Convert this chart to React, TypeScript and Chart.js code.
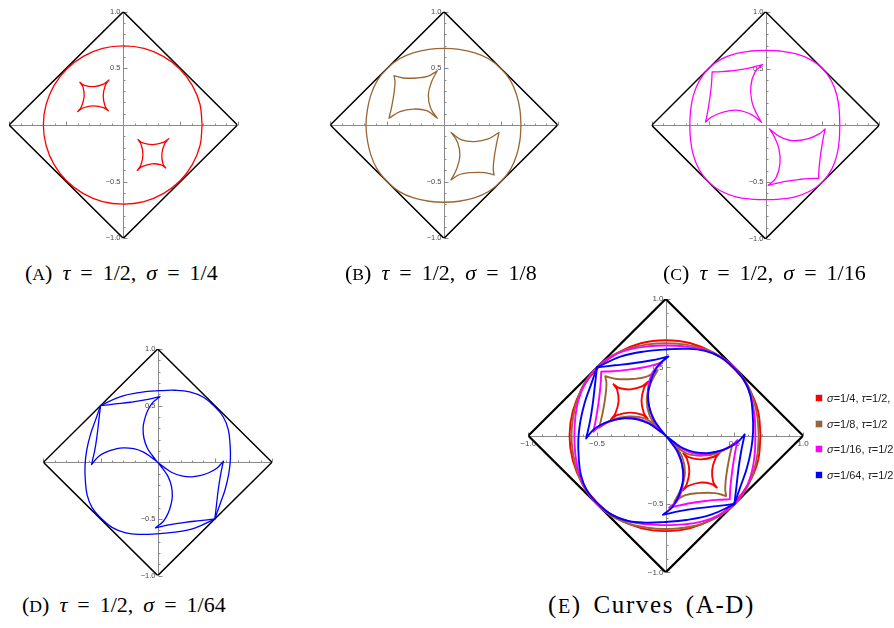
import React, { useEffect, useRef } from 'react';
import { Chart, registerables } from 'chart.js';

Chart.register(...registerables);

type P = [number, number];

// Square |x| + |y| = 1 drawn in every panel
const DIAMOND: P[] = [[1, 0], [0, 1], [-1, 0], [0, -1], [1, 0]];

// Axis ticks
const MAJOR_TICKS = [-1, -0.5, 0.5, 1];
const MAJOR_TICK_LABELS = ['\u22121.0', '\u22120.5', '0.5', '1.0'];
const MINOR_TICKS = [-0.9, -0.8, -0.7, -0.6, -0.4, -0.3, -0.2, -0.1, 0.1, 0.2, 0.3, 0.4, 0.6, 0.7, 0.8, 0.9];

// sigma = 1/4
const OUTER_A: P[] = [
  [0.69, 0], [0.672, 0.181], [0.604, 0.35], [0.495, 0.495], [0.35, 0.606], [0.181, 0.676],
  [0, 0.698], [-0.181, 0.676], [-0.35, 0.606], [-0.495, 0.495], [-0.606, 0.35], [-0.676, 0.181],
  [-0.70, 0], [-0.676, -0.181], [-0.606, -0.35], [-0.495, -0.495], [-0.35, -0.606], [-0.181, -0.676],
  [0, -0.698], [0.181, -0.676], [0.35, -0.606], [0.495, -0.495], [0.604, -0.35], [0.672, -0.181],
  [0.69, 0],
];
const UPPER_A: P[] = [
  [-0.380, 0.376], [-0.339, 0.349], [-0.255, 0.339], [-0.169, 0.363], [-0.126, 0.397],
  [-0.126, 0.397], [-0.157, 0.351], [-0.176, 0.258], [-0.160, 0.168], [-0.131, 0.124],
  [-0.131, 0.124], [-0.174, 0.154], [-0.263, 0.169], [-0.354, 0.150], [-0.400, 0.118],
  [-0.400, 0.118], [-0.367, 0.162], [-0.343, 0.250], [-0.353, 0.335], [-0.380, 0.376],
];
const LOWER_A: P[] = [
  [0.372, -0.379], [0.331, -0.352], [0.250, -0.343], [0.163, -0.368], [0.122, -0.401],
  [0.122, -0.401], [0.153, -0.355], [0.172, -0.262], [0.156, -0.172], [0.128, -0.128],
  [0.128, -0.128], [0.171, -0.158], [0.258, -0.173], [0.350, -0.154], [0.397, -0.121],
  [0.397, -0.121], [0.362, -0.166], [0.338, -0.254], [0.346, -0.339], [0.372, -0.379],
];

// sigma = 1/8
const OUTER_B: P[] = [
  [0.677, 0], [0.668, 0.133], [0.639, 0.265], [0.585, 0.391], [0.50, 0.50], [0.391, 0.585],
  [0.265, 0.639], [0.133, 0.668], [0, 0.676], [-0.133, 0.668], [-0.265, 0.639], [-0.391, 0.585],
  [-0.50, 0.50], [-0.587, 0.392], [-0.643, 0.266], [-0.674, 0.134], [-0.686, 0], [-0.674, -0.134],
  [-0.643, -0.266], [-0.587, -0.392], [-0.50, -0.50], [-0.393, -0.588], [-0.267, -0.644], [-0.134, -0.673],
  [0, -0.682], [0.134, -0.673], [0.267, -0.644], [0.392, -0.587], [0.50, -0.50], [0.585, -0.391],
  [0.639, -0.265], [0.668, -0.133], [0.677, 0],
];
const UPPER_B: P[] = [
  [-0.440, 0.435], [-0.358, 0.415], [-0.240, 0.415], [-0.138, 0.432], [-0.059, 0.479],
  [-0.059, 0.479], [-0.109, 0.382], [-0.138, 0.265], [-0.117, 0.147], [-0.059, 0.059],
  [-0.059, 0.059], [-0.152, 0.126], [-0.270, 0.141], [-0.387, 0.118], [-0.484, 0.059],
  [-0.484, 0.059], [-0.460, 0.162], [-0.440, 0.279], [-0.431, 0.382], [-0.440, 0.435],
];
const LOWER_B: P[] = [
  [0.440, -0.441], [0.358, -0.420], [0.240, -0.420], [0.138, -0.437], [0.062, -0.485],
  [0.062, -0.485], [0.112, -0.387], [0.140, -0.270], [0.119, -0.152], [0.062, -0.066],
  [0.062, -0.066], [0.154, -0.131], [0.272, -0.146], [0.389, -0.123], [0.484, -0.066],
  [0.484, -0.066], [0.462, -0.167], [0.442, -0.284], [0.433, -0.387], [0.440, -0.441],
];

// sigma = 1/16
const OUTER_C: P[] = [
  [0.653, 0], [0.648, 0.129], [0.628, 0.260], [0.581, 0.388], [0.50, 0.50], [0.389, 0.582],
  [0.262, 0.631], [0.130, 0.654], [0, 0.66], [-0.130, 0.654], [-0.262, 0.631], [-0.389, 0.582],
  [-0.50, 0.50], [-0.583, 0.389], [-0.634, 0.263], [-0.658, 0.131], [-0.665, 0], [-0.658, -0.131],
  [-0.634, -0.263], [-0.583, -0.389], [-0.50, -0.50], [-0.388, -0.581], [-0.260, -0.629], [-0.129, -0.649],
  [0, -0.654], [0.129, -0.649], [0.260, -0.629], [0.388, -0.581], [0.50, -0.50], [0.581, -0.388],
  [0.628, -0.260], [0.648, -0.129], [0.653, 0],
];
const UPPER_C: P[] = [
  [-0.469, 0.469], [-0.387, 0.472], [-0.313, 0.478], [-0.167, 0.499], [-0.026, 0.534],
  [-0.026, 0.534], [-0.094, 0.466], [-0.129, 0.343], [-0.120, 0.211], [-0.079, 0.103], [-0.035, 0.026],
  [-0.035, 0.026], [-0.123, 0.094], [-0.240, 0.132], [-0.372, 0.117], [-0.474, 0.073], [-0.527, 0.029],
  [-0.527, 0.029], [-0.510, 0.109], [-0.489, 0.240], [-0.474, 0.372], [-0.469, 0.469],
];
const LOWER_C: P[] = [
  [0.466, -0.466], [0.384, -0.469], [0.310, -0.475], [0.164, -0.496], [0.024, -0.528],
  [0.024, -0.528], [0.092, -0.463], [0.127, -0.340], [0.118, -0.208], [0.077, -0.100], [0.033, -0.030],
  [0.033, -0.030], [0.121, -0.097], [0.238, -0.135], [0.370, -0.120], [0.472, -0.076], [0.524, -0.032],
  [0.524, -0.032], [0.507, -0.112], [0.486, -0.243], [0.471, -0.375], [0.466, -0.466],
];

// sigma = 1/64
const OUTER_D: P[] = [
  [-0.50, 0.50], [-0.33, 0.578], [-0.15, 0.617], [0.02, 0.632], [0.15, 0.636], [0.28, 0.622],
  [0.40, 0.574], [0.50, 0.49], [0.574, 0.40], [0.617, 0.29], [0.633, 0.16], [0.636, 0.03],
  [0.622, -0.10], [0.59, -0.24], [0.545, -0.37], [0.50, -0.50], [0.50, -0.50], [0.33, -0.578],
  [0.15, -0.617], [-0.02, -0.632], [-0.15, -0.636], [-0.28, -0.622], [-0.40, -0.574], [-0.50, -0.49],
  [-0.574, -0.40], [-0.617, -0.29], [-0.633, -0.16], [-0.636, -0.03], [-0.622, 0.10], [-0.59, 0.24],
  [-0.545, 0.37], [-0.50, 0.50],
];
const UPPER_D: P[] = [
  [-0.50, 0.50], [-0.37, 0.515], [-0.24, 0.53], [-0.11, 0.55], [0.02, 0.579],
  [0.02, 0.579], [-0.05, 0.52], [-0.092, 0.447], [-0.117, 0.37], [-0.128, 0.30], [-0.12, 0.21],
  [-0.09, 0.124], [-0.047, 0.06], [0, 0],
  [0, 0], [-0.06, 0.047], [-0.124, 0.09], [-0.21, 0.12], [-0.30, 0.128], [-0.37, 0.117],
  [-0.447, 0.092], [-0.52, 0.05], [-0.579, -0.02],
  [-0.579, -0.02], [-0.55, 0.11], [-0.53, 0.24], [-0.515, 0.37], [-0.50, 0.50],
];
const LOWER_D: P[] = [
  [0.50, -0.50], [0.37, -0.515], [0.24, -0.53], [0.11, -0.55], [-0.02, -0.579],
  [-0.02, -0.579], [0.05, -0.52], [0.092, -0.447], [0.117, -0.37], [0.128, -0.30], [0.12, -0.21],
  [0.09, -0.124], [0.047, -0.06], [0, 0],
  [0, 0], [0.06, -0.047], [0.124, -0.09], [0.21, -0.12], [0.30, -0.128], [0.37, -0.117],
  [0.447, -0.092], [0.52, -0.05], [0.575, 0.01],
  [0.575, 0.01], [0.55, -0.11], [0.53, -0.24], [0.515, -0.37], [0.50, -0.50],
];

const SERIES = [
  { key: 'A', color: '#ff0000', sigma: '1/4', tau: '1/2', legendTail: ',', curves: [OUTER_A, UPPER_A, LOWER_A] },
  { key: 'B', color: '#996633', sigma: '1/8', tau: '1/2', legendTail: '', curves: [OUTER_B, UPPER_B, LOWER_B] },
  { key: 'C', color: '#ff00ff', sigma: '1/16', tau: '1/2', legendTail: '', curves: [OUTER_C, UPPER_C, LOWER_C] },
  { key: 'D', color: '#0000ff', sigma: '1/64', tau: '1/2', legendTail: '', curves: [OUTER_D, UPPER_D, LOWER_D] },
];

const AXIS_COLOR = '#8a8a8a';
const LABEL_COLOR = '#4a4a4a';

type PanelSpec = {
  id: string;
  cx: number; cy: number; sx: number; sy: number;
  series: typeof SERIES;
  curveWidth: number;
  frameWidth: number;
  xLabels: boolean;
  fontSize: number;
};

const PANELS: PanelSpec[] = [
  { id: 'A', cx: 123.3, cy: 125.0, sx: 114.2, sy: 113.3, series: [SERIES[0]], curveWidth: 1.3, frameWidth: 1.5, xLabels: false, fontSize: 7.5 },
  { id: 'B', cx: 444.0, cy: 125.0, sx: 113.7, sy: 113.3, series: [SERIES[1]], curveWidth: 1.3, frameWidth: 1.5, xLabels: false, fontSize: 7.5 },
  { id: 'C', cx: 765.5, cy: 125.3, sx: 113.8, sy: 113.6, series: [SERIES[2]], curveWidth: 1.3, frameWidth: 1.5, xLabels: false, fontSize: 7.5 },
  { id: 'D', cx: 157.7, cy: 462.3, sx: 114.3, sy: 113.3, series: [SERIES[3]], curveWidth: 1.3, frameWidth: 1.5, xLabels: false, fontSize: 7.5 },
  { id: 'E', cx: 665.7, cy: 435.7, sx: 137.4, sy: 136.7, series: SERIES, curveWidth: 1.9, frameWidth: 2.2, xLabels: true, fontSize: 8 },
];

function frameOf(p: PanelSpec) {
  const m = 16;
  const left = Math.floor(p.cx - p.sx - m);
  const top = Math.floor(p.cy - p.sy - m);
  const right = Math.ceil(p.cx + p.sx + m);
  const bottom = Math.ceil(p.cy + p.sy + m);
  return {
    left, top, width: right - left, height: bottom - top,
    padding: {
      left: p.cx - p.sx - left,
      right: right - (p.cx + p.sx),
      top: p.cy - p.sy - top,
      bottom: bottom - (p.cy + p.sy),
    },
  };
}

const toXY = (pts: P[]) => pts.map(([x, y]) => ({ x, y }));

function crossAxes(p: PanelSpec) {
  return {
    id: 'crossAxes',
    beforeDatasetsDraw(chart: any) {
      const { ctx } = chart;
      const xs = chart.scales.x;
      const ys = chart.scales.y;
      const x0 = Math.round(xs.getPixelForValue(0)) + 0.5;
      const y0 = Math.round(ys.getPixelForValue(0)) + 0.5;
      ctx.save();
      ctx.strokeStyle = AXIS_COLOR;
      ctx.lineWidth = 1;
      ctx.beginPath();
      ctx.moveTo(xs.getPixelForValue(-1), y0);
      ctx.lineTo(xs.getPixelForValue(1), y0);
      ctx.moveTo(x0, ys.getPixelForValue(1));
      ctx.lineTo(x0, ys.getPixelForValue(-1));
      const tick = (v: number, len: number) => {
        const px = Math.round(xs.getPixelForValue(v)) + 0.5;
        ctx.moveTo(px, y0);
        ctx.lineTo(px, y0 - len);
        const py = Math.round(ys.getPixelForValue(v)) + 0.5;
        ctx.moveTo(x0, py);
        ctx.lineTo(x0 + len, py);
      };
      MINOR_TICKS.forEach((v) => tick(v, 2));
      MAJOR_TICKS.forEach((v) => tick(v, 4));
      ctx.stroke();

      ctx.fillStyle = LABEL_COLOR;
      ctx.font = `${p.fontSize}px "Liberation Sans", Arial, sans-serif`;
      ctx.textBaseline = 'middle';
      ctx.textAlign = 'right';
      MAJOR_TICKS.forEach((v, i) => {
        ctx.fillText(MAJOR_TICK_LABELS[i], x0 - 3, ys.getPixelForValue(v));
      });
      if (p.xLabels) {
        ctx.textAlign = 'center';
        MAJOR_TICKS.forEach((v, i) => {
          ctx.fillText(MAJOR_TICK_LABELS[i], xs.getPixelForValue(v), y0 + 7.5);
        });
      }
      ctx.restore();
    },
  };
}

function Panel({ spec }: { spec: PanelSpec }) {
  const ref = useRef<HTMLCanvasElement | null>(null);
  const f = frameOf(spec);

  useEffect(() => {
    if (!ref.current) return;
    const curveSets: any[] = [];
    // later series sit on top, so they go first in the dataset list
    [...spec.series].reverse().forEach((s) => {
      s.curves.forEach((c, i) => {
        curveSets.push({
          label: `${s.key}${i}`,
          data: toXY(c),
          showLine: true,
          borderColor: s.color,
          borderWidth: spec.curveWidth,
          borderJoinStyle: 'round',
          borderCapStyle: 'round',
          tension: 0.4,
          pointRadius: 0,
          fill: false,
        });
      });
    });
    curveSets.push({
      label: 'frame',
      data: toXY(DIAMOND),
      showLine: true,
      borderColor: '#000000',
      borderWidth: spec.frameWidth,
      borderJoinStyle: 'miter',
      tension: 0,
      pointRadius: 0,
      fill: false,
    });

    const chart = new Chart(ref.current, {
      type: 'scatter',
      data: { datasets: curveSets },
      options: {
        responsive: false,
        animation: false,
        devicePixelRatio: 1,
        events: [],
        layout: { padding: f.padding },
        scales: {
          x: { type: 'linear', min: -1, max: 1, display: false },
          y: { type: 'linear', min: -1, max: 1, display: false },
        },
        plugins: {
          legend: { display: false },
          tooltip: { enabled: false },
        },
      },
      plugins: [crossAxes(spec)],
    } as any);
    return () => chart.destroy();
  }, []);

  return (
    <canvas
      ref={ref}
      width={f.width}
      height={f.height}
      style={{ position: 'absolute', left: f.left, top: f.top, width: f.width, height: f.height }}
    />
  );
}

const CAPTION_FONT = '"Liberation Serif", "Times New Roman", serif';

const CAPTIONS = [
  { id: 'A', left: 25, top: 262 },
  { id: 'B', left: 345, top: 262 },
  { id: 'C', left: 663, top: 262 },
  { id: 'D', left: 22, top: 594 },
];

function Caption({ left, top, size, ls, ws, children }: {
  left: number; top: number; size: number; ls: number; ws: number; children: React.ReactNode;
}) {
  return (
    <div
      style={{
        position: 'absolute', left, top, whiteSpace: 'nowrap',
        fontFamily: CAPTION_FONT, fontSize: size, lineHeight: `${size}px`,
        letterSpacing: `${ls}px`, wordSpacing: `${ws}px`, color: '#000',
      }}
    >
      {children}
    </div>
  );
}

// caption letters are set as small capitals
const sc: React.CSSProperties = { fontSize: '0.8em' };

export default function App() {
  return (
    <div style={{ position: 'absolute', left: 0, top: 0, width: 894, height: 628, background: '#fff', overflow: 'hidden' }}>
      {PANELS.map((p) => <Panel key={p.id} spec={p} />)}
      {CAPTIONS.map((c, i) => (
        <Caption key={c.id} left={c.left} top={c.top} size={22} ls={0} ws={4.5}>
          (<span style={sc}>{c.id}</span>) <i>τ</i> = {SERIES[i].tau}, <i>σ</i> = {SERIES[i].sigma}
        </Caption>
      ))}
      <Caption left={548} top={592} size={25} ls={1.6} ws={4}>
        (<span style={sc}>E</span>) Curves (A-D)
      </Caption>
      <div style={{ position: 'absolute', left: 816, top: 385, fontFamily: '"Liberation Sans", Arial, sans-serif', fontSize: 11, color: '#222' }}>
        {SERIES.map((s, i) => (
          <div key={s.key} style={{ position: 'absolute', left: 0, top: i * 25.5, height: 26, display: 'flex', alignItems: 'center', whiteSpace: 'nowrap' }}>
            <span style={{ display: 'inline-block', width: 6, height: 6, background: s.color, boxShadow: '0 0 0 0.5px rgba(0,0,0,0.35)', marginRight: 5 }} />
            <span><i>σ</i>={s.sigma}, <i>τ</i>={s.tau}{s.legendTail}</span>
          </div>
        ))}
      </div>
    </div>
  );
}
